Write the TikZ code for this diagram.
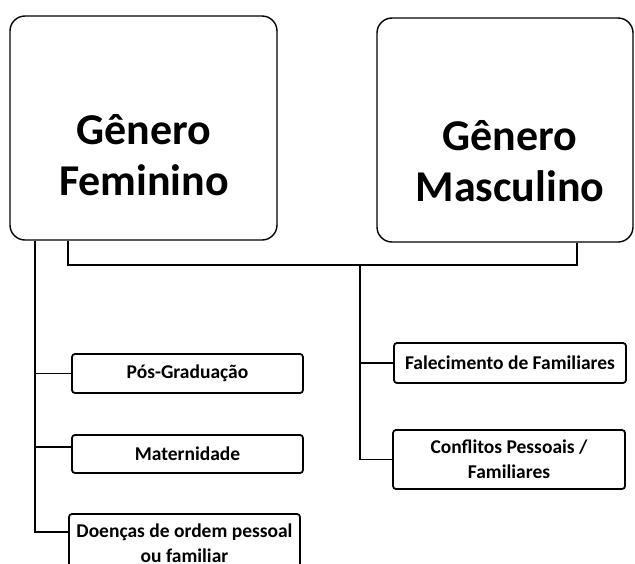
\documentclass[tikz,border=0pt]{standalone}
\usepackage{fontspec}
\setmainfont{Carlito}
\begin{document}
\begin{tikzpicture}[x=1pt,y=-1pt,
  bigbox/.style={draw=black,line width=1.4pt,rounded corners=15pt,fill=white,inner sep=0pt},
  bigtext/.style={font=\bfseries\fontsize{44}{51}\selectfont,align=center,inner sep=0pt},
  smallbox/.style={draw=black,line width=1.8pt,rounded corners=3pt,fill=white,align=center,
    font=\bfseries\fontsize{19.5}{25}\selectfont,inner sep=0pt},
  conn/.style={draw=black,line width=1.5pt}]
\useasboundingbox (0,0) rectangle (635,563);
\clip (0,0) rectangle (635,563);
\fill[white] (0,0) rectangle (635,563);
\coordinate (lx) at (35,0);
\coordinate (mx) at (68,0);
\coordinate (rx) at (577,0);
\coordinate (cx) at (360,0);
\coordinate (hy) at (0,265);
\node[bigbox,minimum width=267pt,minimum height=224pt] (F) at (143.5,128) {};
\node[bigbox,minimum width=256pt,minimum height=224pt] (M) at (505,130) {};
\node[bigtext] (FT) at (144,155) {Gênero\\Feminino};
\node[bigtext] (MT) at (510,161) {Gênero\\Masculino};
\node[smallbox,minimum width=231pt,minimum height=39pt] (pos) at (187.5,373.5) {Pós-Graduação};
\node[smallbox,minimum width=231pt,minimum height=38pt] (mat) at (187.5,454) {Maternidade};
\node[smallbox,minimum width=231pt,minimum height=58pt] (doe) at (184.5,543) {Doenças de ordem pessoal\\ou familiar};
\node[smallbox,minimum width=232pt,minimum height=40pt] (fal) at (510,363) {Falecimento de Familiares};
\node[smallbox,minimum width=232pt,minimum height=59pt] (conf) at (509,459.5) {Conflitos Pessoais /\\Familiares};
\coordinate (matc) at ([yshift=7pt]mat.west);
\coordinate (doec) at ([yshift=11pt]doe.west);
\draw[conn] (F.south -| lx) |- (doec);
\draw[conn] (pos.west -| lx) -- (pos.west);
\draw[conn] (matc -| lx) -- (matc);
\draw[conn] (F.south -| mx) |- (hy -| rx) -- (M.south -| rx);
\draw[conn] (hy -| cx) |- (conf.west);
\draw[conn] (fal.west -| cx) -- (fal.west);
\end{tikzpicture}
\end{document}
